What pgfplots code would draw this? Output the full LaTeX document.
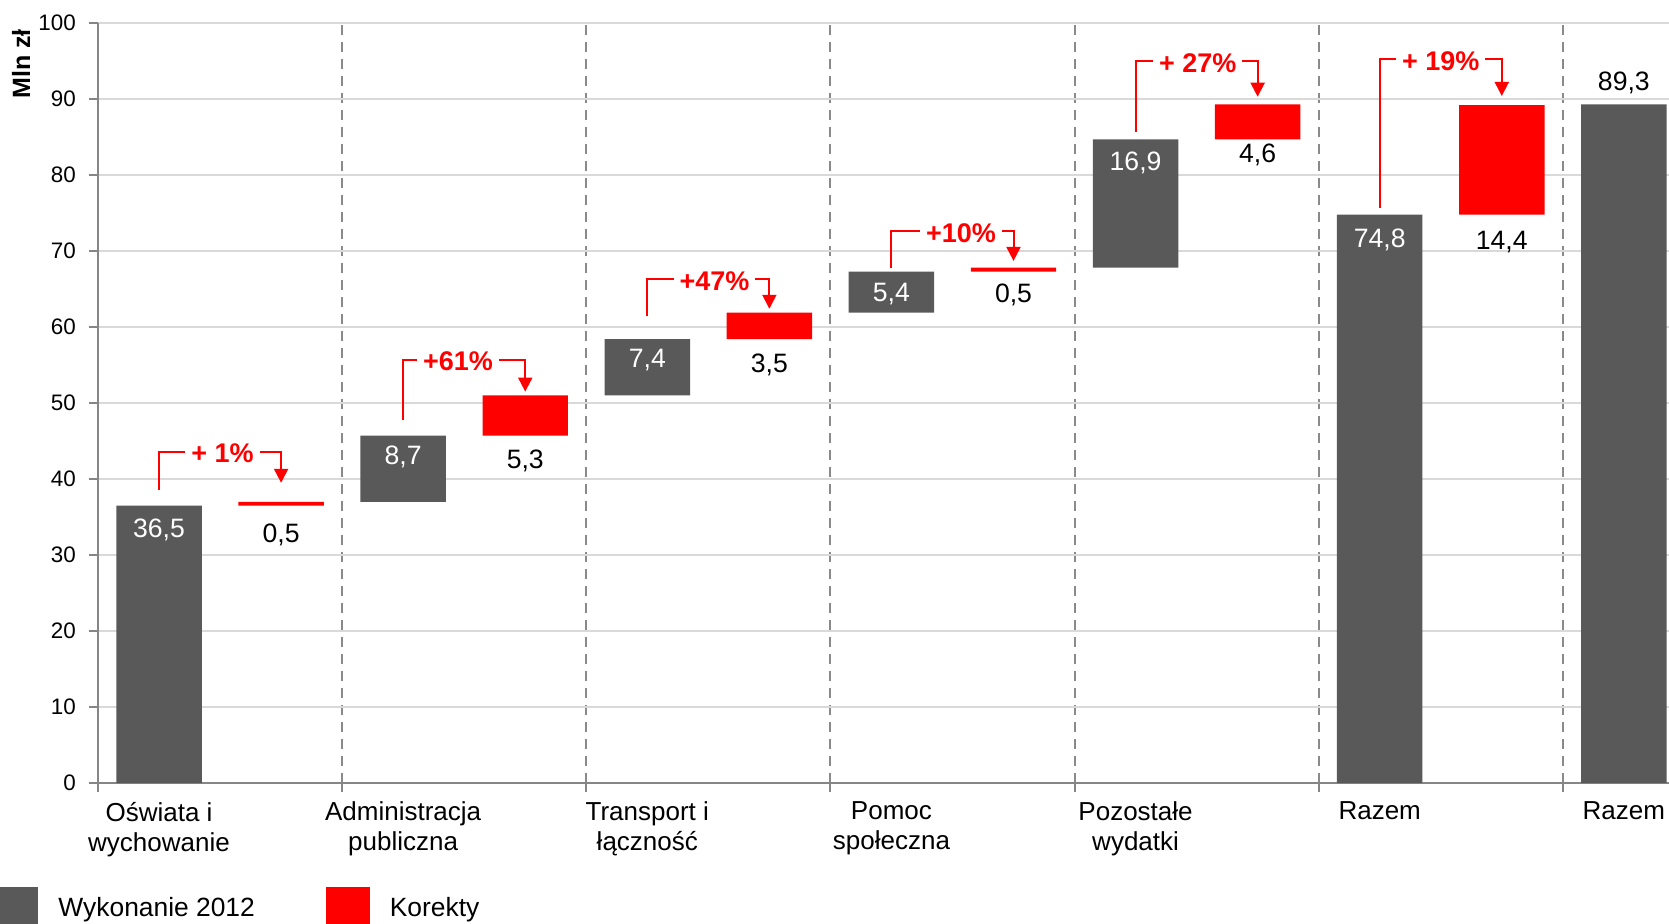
\documentclass[border=0pt]{standalone}
\usepackage{pgfplots}
\pgfplotsset{compat=1.18}
\usepackage{fontspec}
\setmainfont{Liberation Sans}
\usetikzlibrary{arrows.meta}
\definecolor{bargrey}{HTML}{595959}
\definecolor{gridgrey}{HTML}{D9D9D9}
\definecolor{axisgrey}{HTML}{868686}
\definecolor{dashgrey}{HTML}{8A8A8A}
\definecolor{kred}{HTML}{FF0000}
\tikzset{
  vlab/.style={font=\fontsize{13.3}{15}\selectfont, inner sep=0pt},
  wlab/.style={vlab, text=white},
  brk/.style={draw=kred, line width=1pt, -{Triangle[width=7pt,length=7pt]}},
  pct/.style={fill=white, text=kred, font=\bfseries\fontsize{13.5}{15}\selectfont, inner xsep=3pt, inner ysep=1pt, yshift=-1pt},
}
\begin{document}
\begin{tikzpicture}
\begin{axis}[
  at={(0,0)}, anchor=south west,
  scale only axis, width=785.5pt, height=380pt,
  xmin=0, xmax=12.87, ymin=0, ymax=100,
  clip=false,
  ybar stacked, bar width=0.7,
  ytick={0,10,...,100},
  xtick={0,2,...,12}, xticklabels={},
  extra x ticks={0.5,2.5,4.5,6.5,8.5,10.5,12.5},
  extra x tick labels={Oświata i\\wychowanie, Administracja\\publiczna, Transport i\\łączność, Pomoc\\społeczna, Pozostałe\\wydatki, Razem, Razem},
  extra x tick style={major tick length=0pt, grid=none},
  xticklabel style={font=\fontsize{13}{15}\selectfont, align=center, anchor=north, inner sep=0pt, yshift=-9.3pt},
  yticklabel style={font=\fontsize{11.2}{13}\selectfont, anchor=east, inner sep=0pt, xshift=-6.4pt},
  /pgf/number format/assume math mode=true,
  ymajorgrids, xmajorgrids,
  major y grid style={gridgrey, line width=1pt},
  major x grid style={dashgrey, line width=1pt, dash pattern=on 5pt off 3.5pt},
  axis x line*=bottom, axis y line*=left,
  axis line style={axisgrey, line width=1pt, -},
  tick style={axisgrey, line width=1pt},
  major tick length=4.5pt,
  tick align=outside,
  legend columns=2,
  legend image code/.code={\fill[#1] (0pt,-10.5pt) rectangle (22pt,10.5pt);},
  legend style={at={(axis description cs:-0.0659,-0.1368)}, anchor=north west,
    draw=none, fill=none, inner sep=0pt, outer sep=0pt,
    font=\fontsize{13.2}{15}\selectfont,
    nodes={inner sep=0pt},
    /tikz/every odd column/.append style={column sep=10pt},
    /tikz/every even column/.append style={column sep=35.5pt}},
]
% invisible base of the floating bars
\addplot[draw=none, fill=none, forget plot] coordinates {
 (0.5,0) (1.5,36.5) (2.5,37.0) (3.5,45.7) (4.5,51.0) (5.5,58.4)
 (6.5,61.9) (7.5,67.3) (8.5,67.8) (9.5,84.7) (10.5,0) (11.5,74.8) (12.5,0)};
% Wykonanie 2012
\addplot[fill=bargrey, draw=none] coordinates {
 (0.5,36.5) (1.5,0) (2.5,8.7) (3.5,0) (4.5,7.4) (5.5,0)
 (6.5,5.4) (7.5,0) (8.5,16.9) (9.5,0) (10.5,74.8) (11.5,0) (12.5,89.3)};
\addlegendentry{Wykonanie 2012}
% Korekty
\addplot[fill=kred, draw=none] coordinates {
 (0.5,0) (1.5,0.5) (2.5,0) (3.5,5.3) (4.5,0) (5.5,3.5)
 (6.5,0) (7.5,0.5) (8.5,0) (9.5,4.6) (10.5,0) (11.5,14.4) (12.5,0)};
\addlegendentry{Korekty}

\node[rotate=90, font=\bfseries\fontsize{12.5}{14}\selectfont, inner sep=0pt] at (axis description cs:-0.049,0.946) {Mln zł};
\end{axis}

% annotations in the axis' own units (x: 785.5pt/12.87, y: 380pt/100), drawn over the bars
\begin{scope}[x=61.0334pt, y=3.8pt]
\node[wlab] at (0.5,33.3) {36,5};
\node[wlab] at (2.5,42.9) {8,7};
\node[wlab] at (4.5,55.6) {7,4};
\node[wlab] at (6.5,64.3) {5,4};
\node[wlab] at (8.5,81.6) {16,9};
\node[wlab] at (10.5,71.5) {74,8};
\node[vlab] at (1.5,32.6) {0,5};
\node[vlab] at (3.5,42.4) {5,3};
\node[vlab] at (5.5,55.0) {3,5};
\node[vlab] at (7.5,64.2) {0,5};
\node[vlab] at (9.5,82.6) {4,6};
\node[vlab] at (11.5,71.2) {14,4};
\node[vlab] at (12.5,92.1) {89,3};

\draw[brk] (0.5,38.6) -- (0.5,43.6) -- (1.5,43.6) -- (1.5,39.5);
\draw[brk] (2.5,47.8) -- (2.5,55.7) -- (3.5,55.7) -- (3.5,51.5);
\draw[brk] (4.5,61.4) -- (4.5,66.3) -- (5.5,66.3) -- (5.5,62.4);
\draw[brk] (6.5,67.7) -- (6.5,72.6) -- (7.5,72.6) -- (7.5,68.7);
\draw[brk] (8.5,85.6) -- (8.5,95.0) -- (9.5,95.0) -- (9.5,90.3);
\draw[brk] (10.5,75.7) -- (10.5,95.2) -- (11.5,95.2) -- (11.5,90.4);
\node[pct] at (1.02,43.6) {+ 1\%};
\node[pct] at (2.95,55.7) {+61\%};
\node[pct] at (5.05,66.3) {+47\%};
\node[pct] at (7.07,72.6) {+10\%};
\node[pct] at (9.01,95.0) {+ 27\%};
\node[pct] at (11.0,95.2) {+ 19\%};
\end{scope}

\pgfresetboundingbox
\useasboundingbox (-49pt,-70pt) rectangle (785.5pt,391.5pt);
\end{tikzpicture}
\end{document}
